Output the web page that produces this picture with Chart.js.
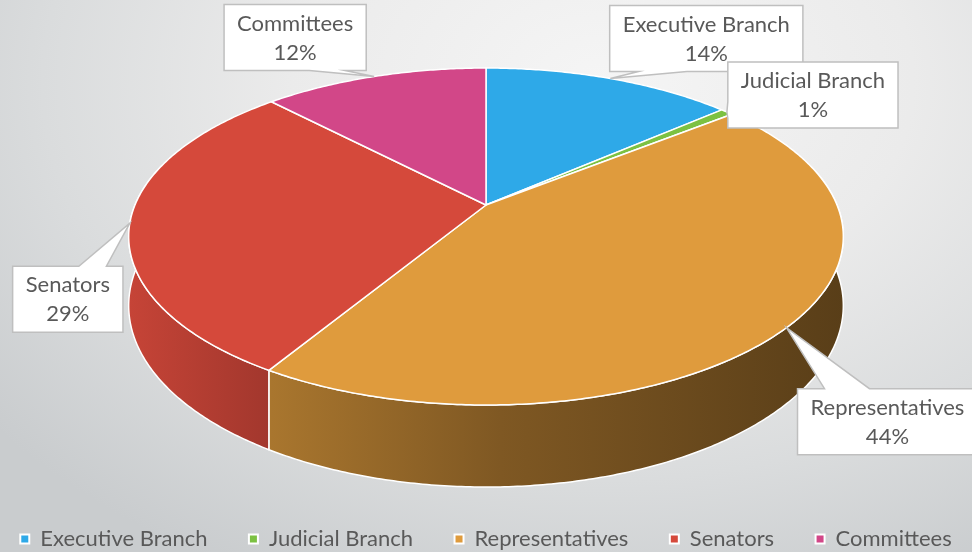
<!DOCTYPE html>
<html>
<head>
<meta charset="utf-8">
<script src="https://cdn.jsdelivr.net/npm/chart.js@4.4.1/dist/chart.umd.min.js"></script>
<style>
  html, body { margin: 0; padding: 0; }
  body {
    width: 972px; height: 552px; overflow: hidden;
    background: radial-gradient(ellipse 80% 100% at 62% 15%, #f5f5f5 0%, #ebebeb 40%, #dadcdd 72%, #c9ccce 100%);
  }
  #wrap { width: 972px; height: 552px; position: relative; }
</style>
</head>
<body>
<div id="wrap"><canvas id="budgetPie" width="972" height="552"></canvas></div>
<script>
// data
const categories = ['Executive Branch', 'Judicial Branch', 'Representatives', 'Senators', 'Committees'];
const shares = [13.6, 0.7, 44.4, 29.1, 12.2];
const sliceColors = ['#2EA9E8', '#7CC142', '#DF9B3D', '#D5493B', '#D24788'];

// where each callout box sits, relative to its slice's rim point
const calloutOffsets = [[96, -40], [86, -17], [101, 94], [-62, 76], [-79, -39]];

// darkening of the side wall from left to right
const wallStops = [[0, 0.93], [0.2, 0.76], [0.52, 0.57], [1, 0.40]];

const FONT = 'Lato';
const FONT_SIZE = 22;
const LEGEND_TEXT_Y = 539;

function shade(hex, f) {
    const n = parseInt(hex.slice(1), 16);
    const r = (n >> 16) & 255, g = (n >> 8) & 255, b = n & 255;
    return 'rgb(' + Math.round(r * f) + ',' + Math.round(g * f) + ',' + Math.round(b * f) + ')';
}

// perspective view of the pie's top face (canvas angle a, 0 = right, clockwise)
function proj(g, a, drop) {
    const s = Math.sin(a), c = Math.cos(a);
    const w = 1 - g.k * s;
    return { x: g.cx + g.A * c / w, y: g.cy + g.B * s / w + (drop ? g.H / w : 0) };
}

function geometry(chart) {
    const arcs = chart.getDatasetMeta(0).data;
    const R = arcs[0].outerRadius;
    return { cx: arcs[0].x, cy: arcs[0].y, A: R * 1.7206, B: R * 0.797, H: R * 0.327, k: 0.187 };
}

function rimPath(ctx, g, a1, a2, drop, first) {
    const steps = Math.max(2, Math.ceil(Math.abs(a2 - a1) / 0.01));
    for (let i = 0; i <= steps; i++) {
        const p = proj(g, a1 + (a2 - a1) * i / steps, drop);
        if (i === 0 && first) ctx.moveTo(p.x, p.y); else ctx.lineTo(p.x, p.y);
    }
}

// speech-bubble box with a tail pointing at (ax, ay)
function bubble(ctx, x, y, w, h, ax, ay) {
    let edge;
    if (ay < y) edge = 0; else if (ay > y + h) edge = 2;
    else edge = ax > x + w ? 1 : 3;
    const corners = [[x, y], [x + w, y], [x + w, y + h], [x, y + h]];
    ctx.beginPath();
    ctx.moveTo(x, y);
    for (let e = 0; e < 4; e++) {
        const P = corners[e], Q = corners[(e + 1) % 4];
        if (e === edge) {
            const horiz = e % 2 === 0;
            const lo = horiz ? Math.min(P[0], Q[0]) : Math.min(P[1], Q[1]);
            const hi = horiz ? Math.max(P[0], Q[0]) : Math.max(P[1], Q[1]);
            const L = hi - lo, bw = 0.25 * L, m = 0.15 * L;
            let c = horiz ? ax : ay;
            c = Math.min(Math.max(c, lo + m + bw / 2), hi - m - bw / 2);
            const dir = (horiz ? Q[0] - P[0] : Q[1] - P[1]) > 0 ? 1 : -1;
            const b1 = c - dir * bw / 2, b2 = c + dir * bw / 2;
            if (horiz) { ctx.lineTo(b1, P[1]); ctx.lineTo(ax, ay); ctx.lineTo(b2, P[1]); }
            else { ctx.lineTo(P[0], b1); ctx.lineTo(ax, ay); ctx.lineTo(P[0], b2); }
        }
        ctx.lineTo(Q[0], Q[1]);
    }
    ctx.closePath();
    ctx.fillStyle = '#ffffff';
    ctx.fill();
    ctx.lineWidth = 1.5;
    ctx.strokeStyle = '#BFBFBF';
    ctx.stroke();
}

const pie3d = {
    id: 'pie3d',
    afterLayout(chart) {
        // drop the legend row down to the bottom edge
        const lg = chart.legend;
        const shift = LEGEND_TEXT_Y - (lg.top + lg.options.labels.padding + FONT_SIZE / 2);
        lg.top += shift;
        lg.bottom += shift;
    },
    beforeDatasetsDraw(chart) {
        const arcs = chart.getDatasetMeta(0).data;
        if (!arcs.length) return false;
        const ctx = chart.ctx;
        const g = geometry(chart);
        const lo = -0.25, hi = Math.PI + 0.25;
        const gx0 = g.cx - g.A * 1.02, gx1 = g.cx + g.A * 1.02;

        ctx.save();
        ctx.lineJoin = 'round';
        // side walls
        arcs.forEach((arc, i) => {
            const a1 = Math.max(arc.startAngle, lo), a2 = Math.min(arc.endAngle, hi);
            if (a2 <= a1) return;
            const grad = ctx.createLinearGradient(gx0, 0, gx1, 0);
            wallStops.forEach(s => grad.addColorStop(s[0], shade(sliceColors[i], s[1])));
            ctx.beginPath();
            rimPath(ctx, g, a1, a2, false, true);
            rimPath(ctx, g, a2, a1, true, false);
            ctx.closePath();
            ctx.fillStyle = grad;
            ctx.fill();
            ctx.lineWidth = 1.5;
            ctx.strokeStyle = '#ffffff';
            ctx.stroke();
        });
        // top faces
        arcs.forEach((arc, i) => {
            ctx.beginPath();
            ctx.moveTo(g.cx, g.cy);
            rimPath(ctx, g, arc.startAngle, arc.endAngle, false, false);
            ctx.closePath();
            ctx.fillStyle = sliceColors[i];
            ctx.fill();
            ctx.lineWidth = 1.5;
            ctx.strokeStyle = '#ffffff';
            ctx.stroke();
        });
        ctx.restore();
        return false;
    },
    afterDraw(chart) {
        const arcs = chart.getDatasetMeta(0).data;
        if (!arcs.length) return;
        const ctx = chart.ctx;
        const g = geometry(chart);
        const total = shares.reduce((a, b) => a + b, 0);
        ctx.save();
        ctx.font = FONT_SIZE + 'px ' + FONT;
        arcs.forEach((arc, i) => {
            const p = proj(g, (arc.startAngle + arc.endAngle) / 2, false);
            const line1 = categories[i];
            const line2 = Math.round(shares[i] / total * 100) + '%';
            const tw = Math.max(ctx.measureText(line1).width, ctx.measureText(line2).width);
            const w = tw + 26, h = 66;
            const bx = p.x + calloutOffsets[i][0] - w / 2;
            const by = p.y + calloutOffsets[i][1] - h / 2;
            bubble(ctx, bx, by, w, h, p.x, p.y);
            ctx.fillStyle = '#595959';
            ctx.textAlign = 'center';
            ctx.textBaseline = 'middle';
            ctx.fillText(line1, bx + w / 2, by + h / 2 - 14);
            ctx.fillText(line2, bx + w / 2, by + h / 2 + 15);
        });
        ctx.restore();
    }
};

new Chart(document.getElementById('budgetPie'), {
    type: 'pie',
    data: {
        labels: categories,
        datasets: [{
            data: shares,
            backgroundColor: sliceColors,
            borderColor: '#ffffff',
            borderWidth: 2
        }]
    },
    options: {
        responsive: false,
        animation: false,
        layout: { padding: { left: 0, right: 0, top: 0, bottom: 108 } },
        plugins: {
            legend: {
                position: 'bottom',
                labels: {
                    boxWidth: 9,
                    boxHeight: 9,
                    padding: 2,
                    color: '#595959',
                    font: { family: FONT, size: FONT_SIZE },
                    generateLabels(chart) {
                        const items = Chart.overrides.pie.plugins.legend.labels.generateLabels(chart);
                        // trailing spaces widen the gap between legend entries
                        items.forEach((it, i) => { if (i < items.length - 1) it.text = it.text + '       '; });
                        return items;
                    }
                }
            },
            tooltip: { enabled: false }
        }
    },
    plugins: [pie3d]
});
</script>
</body>
</html>
